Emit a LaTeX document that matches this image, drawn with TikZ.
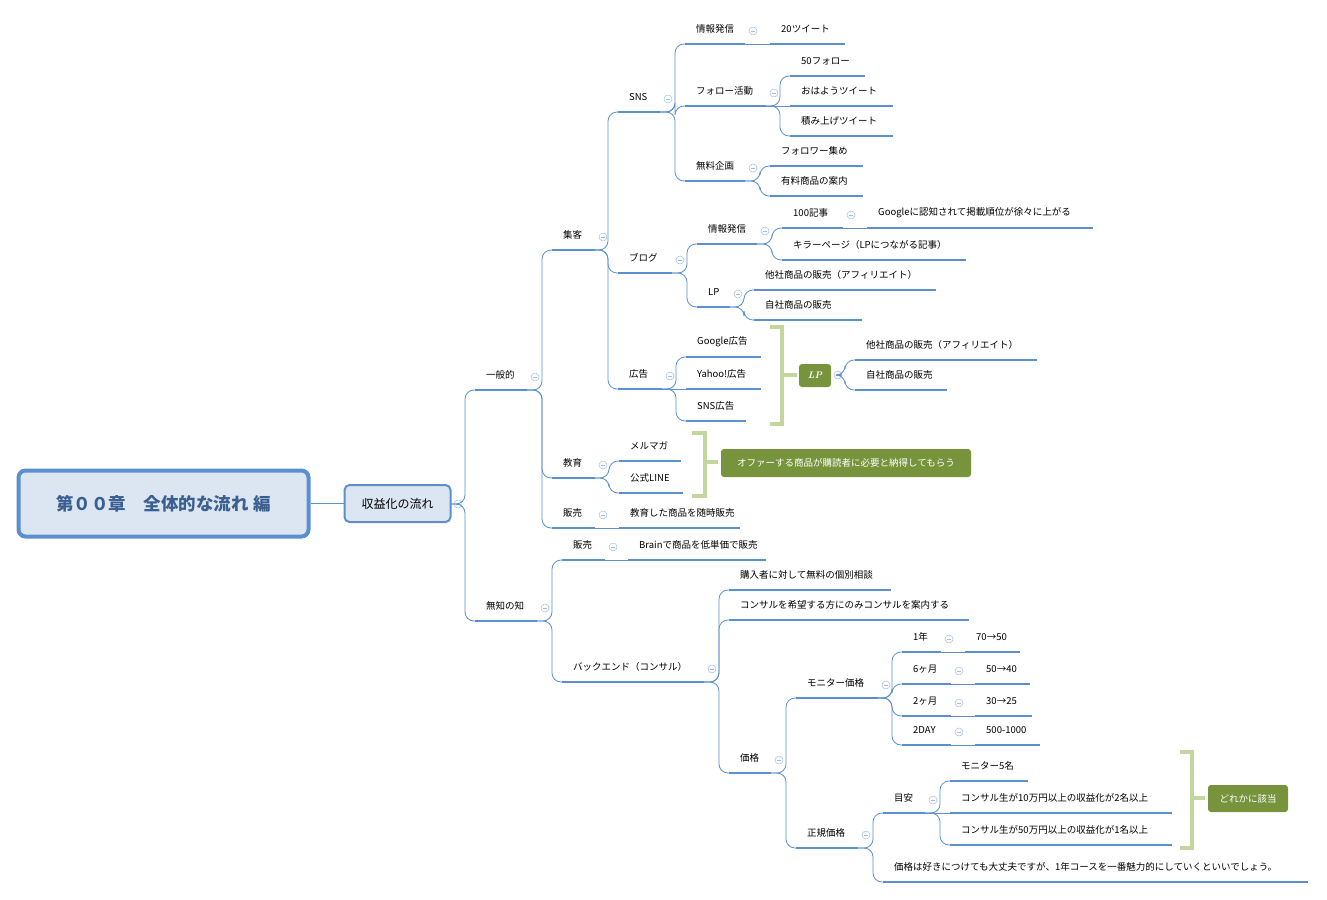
\documentclass[tikz,border=0pt]{standalone}
\usepackage{fontspec}
\newfontfamily\cjk{Noto Sans CJK JP}
\definecolor{mblue}{HTML}{5B8FD0}
\definecolor{rootfill}{HTML}{DCE6F2}
\definecolor{roottext}{HTML}{3B5F8F}
\definecolor{bgreen}{HTML}{C3D69B}
\definecolor{dgreen}{HTML}{77933C}
\tikzset{
 ul/.style={mblue,line width=2.4pt},
 conn/.style={mblue,line width=0.8pt,rounded corners=9pt},
 lab/.style={anchor=west,inner sep=0pt,font=\cjk\fontsize{9.5}{10}\selectfont},
 mn/.style={draw=mblue!60,line width=0.5pt,circle,minimum size=8pt,inner sep=0pt},
 brk/.style={bgreen,line width=3.5pt},
 gbox/.style={fill=dgreen,rounded corners=3pt,text=white,font=\cjk\fontsize{9.5}{10}\selectfont,inner sep=0pt}
}
\newcommand\mmT[5]{\coordinate (#1-s) at (#2,#4);\coordinate (#1-e) at (#3,#4);
 \draw[ul] (#1-s)--(#1-e);\node[lab] (#1) at ({#2+11},{#4-15}) {#5};}
\newcommand\mmC[2]{\draw[conn] (#1-e) -| ([xshift=-10pt]#2-s) -- (#2-s);}
\newcommand\mmL[2]{\draw[mblue,line width=0.8pt] (#1-e) -- (#2-s);}
\newcommand\mmM[1]{\node[mn] (#1-m) at ([shift={(8,-13)}]#1-e) {}; \draw[mblue!60,line width=0.5pt] ([xshift=-2pt]#1-m.center)--([xshift=2pt]#1-m.center);}
\begin{document}
\begin{tikzpicture}[x=1pt,y=-1pt]
\useasboundingbox (0,0) rectangle (1327,899);
% root
\node[draw=mblue,fill=rootfill,line width=4pt,rounded corners=7pt,minimum width=290pt,minimum height=66pt,text=roottext,font=\cjk\bfseries\fontsize{17.5}{19}\selectfont] (root) at (163.5,503.5) {第００章　全体的な流れ 編};
\node[draw=mblue,fill=rootfill,line width=2pt,rounded corners=5pt,minimum width=106pt,minimum height=37pt,font=\cjk\fontsize{12}{13}\selectfont] (sk) at (397.5,503.5) {収益化の流れ};
\draw[mblue,line width=0.8pt] (root.east)--(sk.west);
\coordinate (sk-e) at (451,504);
\node[mn] (skm) at (458,504) {}; \draw[mblue!60,line width=0.5pt] (455.5,504)--(460.5,504);
% level 1
\mmT{ip}{475}{527}{390}{一般的}
\mmT{mu}{475}{537}{621}{無知の知}
\mmC{sk}{ip}\mmC{sk}{mu}
\mmM{ip}\mmM{mu}
% 一般的
\mmT{sy}{552}{595}{250}{集客}
\mmT{ky}{552}{595}{478}{教育}
\mmT{hb}{552}{595}{528}{販売}
\mmC{ip}{sy}\mmC{ip}{ky}\mmC{ip}{hb}
\mmM{sy}\mmM{ky}\mmM{hb}
% 集客
\mmT{sns}{618}{660}{112}{SNS}
\mmT{blog}{618}{672}{273}{ブログ}
\mmT{ad}{618}{662}{389}{広告}
\mmC{sy}{sns}\mmC{sy}{blog}\mmC{sy}{ad}
\mmM{sns}\mmM{blog}\mmM{ad}
% SNS
\mmT{jh}{685}{745}{44}{情報発信}
\mmT{fk}{685}{766}{106}{フォロー活動}
\mmT{mk}{685}{745}{181}{無料企画}
\mmC{sns}{jh}\mmC{sns}{fk}\mmC{sns}{mk}
\mmM{jh}\mmM{fk}\mmM{mk}
\mmT{tw}{770}{845}{44}{20ツイート}
\mmL{jh}{tw}
\mmT{f50}{790}{865}{76}{50フォロー}
\mmT{oh}{790}{893}{106}{おはようツイート}
\mmT{tm}{790}{893}{136}{積み上げツイート}
\mmC{fk}{f50}\mmL{fk}{oh}\mmC{fk}{tm}
\mmT{fa}{770}{863}{166}{フォロワー集め}
\mmT{yu}{770}{863}{196}{有料商品の案内}
\mmC{mk}{fa}\mmC{mk}{yu}
% ブログ
\mmT{bj}{697}{757}{244}{情報発信}
\mmT{lp}{697}{730}{307}{LP}
\mmC{blog}{bj}\mmC{blog}{lp}
\mmM{bj}\mmM{lp}
\mmT{k100}{782}{843}{228}{100記事}
\mmT{kp}{782}{966}{260}{キラーページ（LPにつながる記事）}
\mmC{bj}{k100}\mmC{bj}{kp}
\mmM{k100}
\mmT{gg}{867}{1093}{228}{Googleに認知されて掲載順位が徐々に上がる}
\mmL{k100}{gg}
\mmT{ta1}{754}{936}{290}{他社商品の販売（アフィリエイト）}
\mmT{ji1}{754}{862}{320}{自社商品の販売}
\mmC{lp}{ta1}\mmC{lp}{ji1}
% 広告
\mmT{ga}{686}{761}{357}{Google広告}
\mmT{ya}{686}{761}{389}{Yahoo!広告}
\mmT{sa}{686}{746}{421}{SNS広告}
\mmC{ad}{ga}\mmL{ad}{ya}\mmC{ad}{sa}
\draw[brk] (770,327)--(782,327)--(782,424)--(770,424) (782,375)--(797,375);
\node[gbox,minimum width=32pt,minimum height=23pt,font=\rmfamily\itshape\bfseries\fontsize{9.5}{10}\selectfont] (lpb) at (815,375.5) {LP};
\coordinate (lpb-e) at (831,375);
\node[mn] (lpbm) at (838,375) {}; \draw[mblue!60,line width=0.5pt] (835.5,375)--(840.5,375);
\mmT{ta2}{855}{1037}{360}{他社商品の販売（アフィリエイト）}
\mmT{ji2}{855}{947}{390}{自社商品の販売}
\draw[conn] (842,375) -| ([xshift=-10pt]ta2-s) -- (ta2-s);
\draw[conn] (842,375) -| ([xshift=-10pt]ji2-s) -- (ji2-s);
% 教育
\mmT{mm}{619}{681}{461}{メルマガ}
\mmT{ln}{619}{683}{493}{公式LINE}
\mmC{ky}{mm}\mmC{ky}{ln}
\draw[brk] (692,433)--(705,433)--(705,496)--(692,496) (705,462)--(718,462);
\node[gbox,minimum width=250pt,minimum height=28pt] (of) at (846,463) {オファーする商品が購読者に必要と納得してもらう};
% 販売
\mmT{zh}{619}{740}{528}{教育した商品を随時販売}
\mmL{hb}{zh}
% 無知の知
\mmT{hb2}{562}{605}{560}{販売}
\mmT{be}{562}{704}{682}{バックエンド（コンサル）}
\mmC{mu}{hb2}\mmC{mu}{be}
\mmM{hb2}\mmM{be}
\mmT{br}{628}{766}{560}{Brainで商品を低単価で販売}
\mmL{hb2}{br}
\mmT{ko}{729}{891}{590}{購入者に対して無料の個別相談}
\mmT{kk}{729}{969}{620}{コンサルを希望する方にのみコンサルを案内する}
\mmT{kc}{729}{771}{773}{価格}
\mmC{be}{ko}\mmC{be}{kk}\mmC{be}{kc}
\mmM{kc}
\mmT{mon}{796}{878}{698}{モニター価格}
\mmT{sei}{796}{858}{848}{正規価格}
\mmC{kc}{mon}\mmC{kc}{sei}
\mmM{mon}\mmM{sei}
\mmT{y1}{902}{941}{652}{1年}
\mmT{m6}{902}{951}{684}{6ヶ月}
\mmT{m2}{902}{951}{716}{2ヶ月}
\mmT{d2}{902}{951}{745}{2DAY}
\mmC{mon}{y1}\mmC{mon}{m6}\mmC{mon}{m2}\mmC{mon}{d2}
\mmM{y1}\mmM{m6}\mmM{m2}\mmM{d2}
\mmT{p1}{965}{1020}{652}{70→50}
\mmT{p2}{975}{1030}{684}{50→40}
\mmT{p3}{975}{1032}{716}{30→25}
\mmT{p4}{975}{1040}{745}{500-1000}
\mmL{y1}{p1}\mmL{m6}{p2}\mmL{m2}{p3}\mmL{d2}{p4}
\mmT{me}{883}{925}{813}{目安}
\mmT{ks}{883}{1308}{882}{価格は好きにつけても大丈夫ですが、1年コースを一番魅力的にしていくといいでしょう。}
\mmC{sei}{me}\mmC{sei}{ks}
\mmM{me}
\mmT{mo5}{950}{1028}{781}{モニター5名}
\mmT{c10}{950}{1172}{813}{コンサル生が10万円以上の収益化が2名以上}
\mmT{c50}{950}{1172}{845}{コンサル生が50万円以上の収益化が1名以上}
\mmC{me}{mo5}\mmL{me}{c10}\mmC{me}{c50}
\draw[brk] (1180,752)--(1192,752)--(1192,848)--(1180,848) (1192,798)--(1205,798);
\node[gbox,minimum width=80pt,minimum height=27pt] (dk) at (1248,798.5) {どれかに該当};
\end{tikzpicture}
\end{document}
